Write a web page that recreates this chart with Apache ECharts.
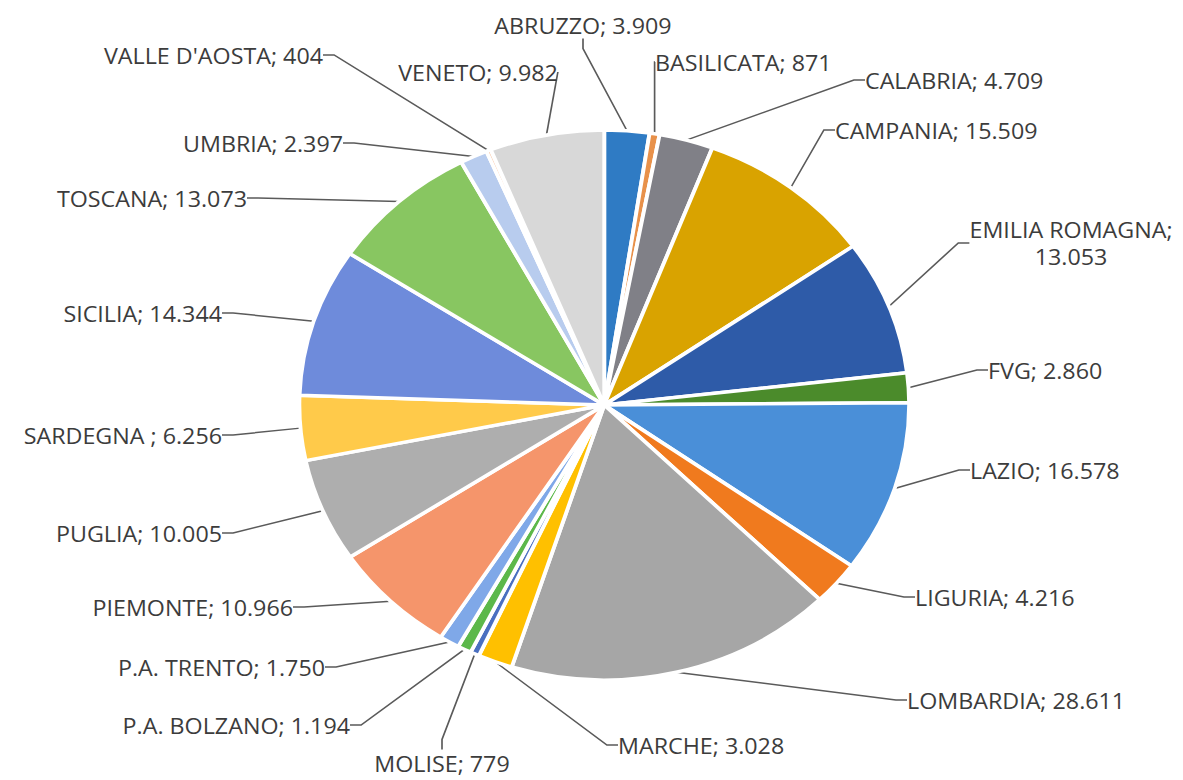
<!DOCTYPE html>
<html><head><meta charset="utf-8">
<script src="https://cdn.jsdelivr.net/npm/echarts@6/dist/echarts.min.js"></script>
<style>
html,body{margin:0;padding:0;background:#fff;overflow:hidden}
#wrap{width:1183px;height:780px;overflow:hidden}
#chart{width:1067px;height:780px;transform:scaleX(1.1087);transform-origin:0 0}
</style></head><body><div id="wrap"><div id="chart"></div></div>
<script>
// data
const regions = ['ABRUZZO','BASILICATA','CALABRIA','CAMPANIA','EMILIA ROMAGNA','FVG','LAZIO','LIGURIA','LOMBARDIA','MARCHE','MOLISE','P.A. BOLZANO','P.A. TRENTO','PIEMONTE','PUGLIA','SARDEGNA ','SICILIA','TOSCANA','UMBRIA',"VALLE D'AOSTA",'VENETO'];
const values = [3909,871,4709,15509,13053,2860,16578,4216,28611,3028,779,1194,1750,10966,10005,6256,14344,13073,2397,404,9982];

// styles
const palette = ['#2F7BC4','#E8914A','#808087','#D9A300','#2E5BA8','#4B8B2B','#4A8FD8','#F07A1E','#A6A6A6','#FFC000','#4A6FC0','#5CB84A','#7FA8E8','#F5956B','#AEAEAE','#FFCA4A','#6E8BDB','#88C661','#B8CCEE','#F8CBAD','#D8D8D8'];
const wrapped = ['EMILIA ROMAGNA'];
// label placement (screen px): [x, y, align]
const labelPlace = [
  [583, 25, 'center'],  [655, 62, 'left'],   [865, 80, 'left'],   [835, 130, 'left'],
  [1071, 243, 'center'],[988, 370, 'left'],  [970, 470, 'left'],  [915, 597, 'left'],
  [907, 700, 'left'],   [618, 745, 'left'],  [442, 763, 'center'],[350, 725, 'right'],
  [325, 667, 'right'],  [293, 607, 'right'], [222, 533, 'right'], [222, 435, 'right'],
  [222, 313, 'right'],  [247, 198, 'right'], [343, 143, 'right'], [323, 55, 'right'],
  [478, 72, 'center']
];
const SX = 1.1087;

function fmt(v){ return String(v).replace(/\B(?=(\d{3})+(?!\d))/g,'.'); }

const chart = echarts.init(document.getElementById('chart'), null, {renderer:'svg'});
chart.setOption({
  animation:false,
  color: palette,
  series:[{
    type:'pie',
    center:[545,405],
    radius:[0,275],
    startAngle:90,
    clockwise:true,
    avoidLabelOverlap:false,
    data: regions.map((n,i)=>({name:n, value:values[i]})),
    itemStyle:{borderColor:'#fff', borderWidth:3.5},
    label:{
      show:true,
      color:'#3c3c3c',
      fontFamily:'Open Sans',
      fontSize:21,
      lineHeight:27,
      formatter:p => wrapped.includes(p.name) ? p.name + ';\n' + fmt(p.value) : p.name + '; ' + fmt(p.value)
    },
    labelLine:{show:true, length:15, length2:10, smooth:false, lineStyle:{color:'#5a5a5a', width:1.5}},
    labelLayout: function(params){
      const lp = labelPlace[params.dataIndex];
      return {x: lp[0]/SX, y: lp[1], align: lp[2], verticalAlign:'middle'};
    }
  }]
});
</script></body></html>
